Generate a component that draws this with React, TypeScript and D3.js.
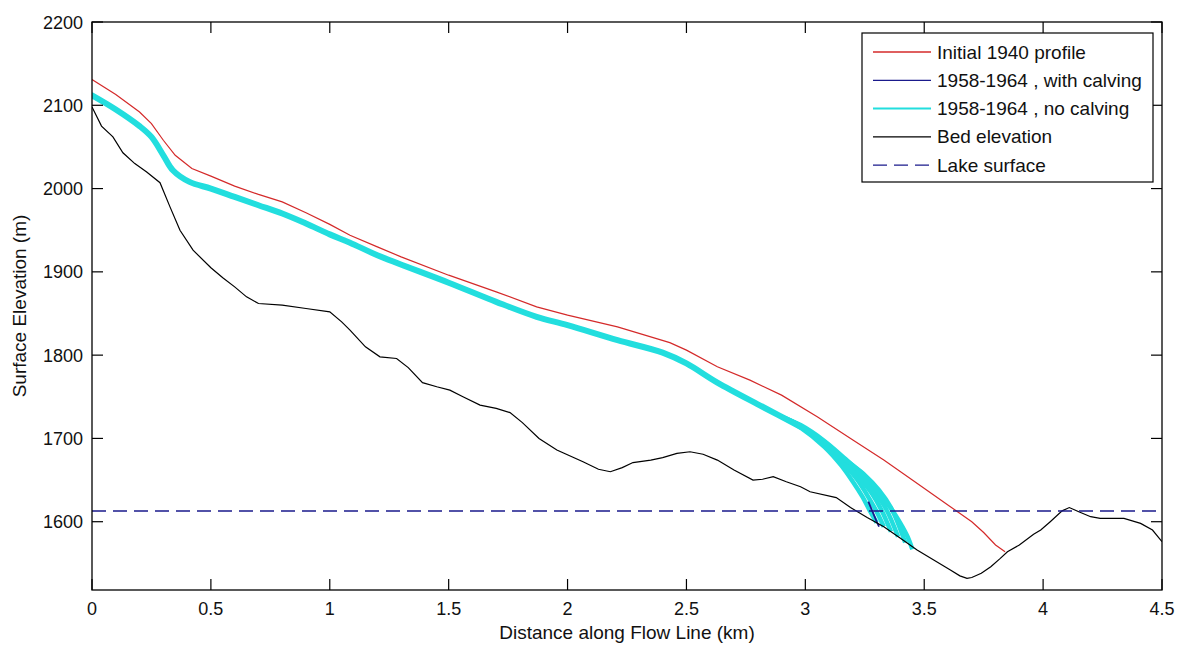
import React from "react";
import * as d3 from "d3";

// ---- data (km, m) ----
const initialX = [0, 0.1, 0.2, 0.25, 0.3, 0.35, 0.42, 0.5, 0.6, 0.7, 0.8, 0.9, 1.0, 1.085, 1.2, 1.3, 1.5, 1.7, 1.87, 2.0, 2.21, 2.43, 2.5, 2.63, 2.767, 2.9, 3.05, 3.2, 3.33, 3.45, 3.61, 3.7, 3.75, 3.8, 3.84];
const initialY = [2131, 2113, 2092, 2078, 2058, 2040, 2024, 2015, 2003, 1993, 1984, 1971, 1957, 1944, 1930, 1918, 1896, 1876, 1858, 1848, 1834, 1815, 1806, 1786, 1770, 1752, 1726, 1698, 1674, 1650, 1618, 1600, 1587, 1572, 1564];

const noCalvX = [0, 0.1, 0.2, 0.25, 0.3, 0.34, 0.41, 0.5, 0.6, 0.7, 0.8, 0.9, 1.0, 1.085, 1.2, 1.5, 1.7, 1.87, 2.0, 2.21, 2.4, 2.5, 2.63, 2.82, 2.98];
const noCalvY = [2112, 2095, 2075, 2062, 2040, 2022, 2008, 2000, 1990, 1980, 1970, 1958, 1945, 1935, 1920, 1887, 1864, 1846, 1836, 1818, 1803, 1790, 1767, 1738, 1714];

// terminal spread of the 1958-1964 no-calving profiles
const noCalvTipsX = [
  [2.9, 2.98, 3.08, 3.15, 3.2, 3.24, 3.27, 3.3],
  [2.9, 2.98, 3.08, 3.16, 3.22, 3.26, 3.3, 3.33],
  [2.9, 2.98, 3.08, 3.16, 3.23, 3.28, 3.32, 3.36],
  [2.9, 2.98, 3.08, 3.17, 3.24, 3.29, 3.34, 3.39],
  [2.9, 2.98, 3.08, 3.17, 3.25, 3.31, 3.36, 3.42],
  [2.9, 2.98, 3.08, 3.17, 3.23, 3.28, 3.32, 3.36, 3.4, 3.43, 3.45],
];
const noCalvTipsY = [
  [1726, 1713, 1690, 1668, 1648, 1630, 1614, 1599],
  [1726, 1714, 1692, 1670, 1650, 1632, 1612, 1594],
  [1726, 1714, 1693, 1672, 1652, 1634, 1614, 1588],
  [1726, 1715, 1694, 1673, 1654, 1636, 1615, 1582],
  [1726, 1715, 1696, 1674, 1656, 1638, 1617, 1575],
  [1726, 1716, 1697, 1675, 1660, 1646, 1630, 1616, 1598, 1582, 1567],
];

const calvingX = [0, 0.1, 0.2, 0.25, 0.3, 0.34, 0.41, 0.5, 0.6, 0.7, 0.8, 0.9, 1.0, 1.085, 1.2, 1.5, 1.7, 1.87, 2.0, 2.21, 2.4, 2.5, 2.63, 2.82, 2.98, 3.08, 3.15, 3.2, 3.24];
const calvingY = [2112, 2095, 2075, 2062, 2040, 2022, 2008, 2000, 1990, 1980, 1970, 1958, 1945, 1935, 1920, 1887, 1864, 1846, 1836, 1818, 1803, 1790, 1767, 1738, 1714, 1690, 1668, 1648, 1630];
const calvingFrontX = [3.265, 3.28, 3.29, 3.3, 3.31];
const calvingFrontY = [1624, 1614, 1607, 1600, 1594];

const bedX = [0, 0.04, 0.088, 0.13, 0.18, 0.23, 0.286, 0.328, 0.37, 0.425, 0.5, 0.55, 0.6, 0.65, 0.7, 0.8, 0.9, 1.0, 1.05, 1.085, 1.15, 1.211, 1.281, 1.33, 1.39, 1.45, 1.505, 1.56, 1.632, 1.7, 1.758, 1.81, 1.88, 1.955, 2.065, 2.13, 2.18, 2.23, 2.275, 2.35, 2.4, 2.46, 2.515, 2.57, 2.63, 2.7, 2.78, 2.82, 2.865, 2.92, 2.98, 3.02, 3.13, 3.19, 3.26, 3.33, 3.4, 3.47, 3.54, 3.61, 3.65, 3.68, 3.7, 3.74, 3.78, 3.82, 3.85, 3.9, 3.96, 3.99, 4.03, 4.08, 4.11, 4.15, 4.2, 4.24, 4.34, 4.41, 4.46, 4.5];
const bedY = [2098, 2075, 2062, 2043, 2030, 2020, 2007, 1978, 1950, 1926, 1905, 1893, 1882, 1870, 1862, 1860, 1856, 1852, 1840, 1830, 1810, 1798, 1796, 1785, 1767, 1762, 1758, 1750, 1740, 1736, 1731, 1719, 1700, 1686, 1672, 1663, 1660, 1665, 1671, 1674, 1677, 1682, 1684, 1681, 1674, 1662, 1650, 1651, 1654, 1648, 1642, 1636, 1629, 1617, 1605, 1594, 1580, 1566, 1554, 1542, 1535, 1532, 1533, 1538, 1546, 1556, 1564, 1572, 1585, 1590, 1600, 1613, 1617, 1612, 1606, 1604, 1604, 1598, 1590, 1576];

const lakeLevel = 1613;

const xTicks = [0, 0.5, 1, 1.5, 2, 2.5, 3, 3.5, 4, 4.5];
const yTicks = [1600, 1700, 1800, 1900, 2000, 2100, 2200];

const legendLabels = ["Initial 1940 profile", "1958-1964 , with calving", "1958-1964 , no calving", "Bed elevation", "Lake surface"];
const legendColors = ["#d42a2a", "#1a1a8c", "#22dede", "#000000", "#1a1a8c"];
const legendDash = ["", "", "", "", "14 7"];

const W = 1180;
const H = 645;
const L = 92, R = 1162, T = 22, B = 590;

export default function App() {
  const x = d3.scaleLinear().domain([0, 4.5]).range([L, R]);
  const y = d3.scaleLinear().domain([1518, 2200]).range([B, T]);
  const line = d3.line<[number, number]>().x((d) => x(d[0])).y((d) => y(d[1]));
  const smooth = d3.line<[number, number]>().x((d) => x(d[0])).y((d) => y(d[1])).curve(d3.curveCatmullRom);
  const pts = (xs: number[], ys: number[]) => xs.map((v, i) => [v, ys[i]] as [number, number]);
  const font = "'Liberation Sans', Arial, sans-serif";

  return (
    <svg width={W} height={H} style={{ position: "absolute", left: 0, top: 0, background: "#fff" }} fontFamily={font}>
      <rect x={0} y={0} width={W} height={H} fill="#fff" />
      <defs>
        <clipPath id="plotclip">
          <rect x={L} y={T} width={R - L} height={B - T} />
        </clipPath>
      </defs>
      <g clipPath="url(#plotclip)">
        <path d={smooth(pts(calvingX, calvingY)) || ""} fill="none" stroke="#1a1a8c" strokeWidth={1.5} />
        <path d={line(pts(initialX, initialY)) || ""} fill="none" stroke="#d42a2a" strokeWidth={1.2} />
        <path d={smooth(pts(noCalvX, noCalvY)) || ""} fill="none" stroke="#22dede" strokeWidth={6} strokeLinejoin="round" strokeLinecap="round" />
        {noCalvTipsX.map((xs, i) => (
          <path key={i} d={smooth(pts(xs, noCalvTipsY[i])) || ""} fill="none" stroke="#22dede" strokeWidth={4.5} strokeLinejoin="round" />
        ))}
        <path d={line(pts(calvingFrontX, calvingFrontY)) || ""} fill="none" stroke="#1a1a8c" strokeWidth={1.8} />
        <path d={line(pts(bedX, bedY)) || ""} fill="none" stroke="#000" strokeWidth={1.2} />
        <line x1={L} x2={R} y1={y(lakeLevel)} y2={y(lakeLevel)} stroke="#1a1a8c" strokeWidth={1.5} strokeDasharray="14 7" />
      </g>
      {/* axes box */}
      <rect x={L} y={T} width={R - L} height={B - T} fill="none" stroke="#000" strokeWidth={1.3} />
      {xTicks.map((t) => (
        <g key={"x" + t}>
          <line x1={x(t)} x2={x(t)} y1={B} y2={B - 11} stroke="#000" strokeWidth={1.2} />
          <line x1={x(t)} x2={x(t)} y1={T} y2={T + 11} stroke="#000" strokeWidth={1.2} />
          <text x={x(t)} y={615} fontSize={18} textAnchor="middle" fill="#111">{String(t)}</text>
        </g>
      ))}
      {yTicks.map((t) => (
        <g key={"y" + t}>
          <line x1={L} x2={L + 11} y1={y(t)} y2={y(t)} stroke="#000" strokeWidth={1.2} />
          <line x1={R} x2={R - 11} y1={y(t)} y2={y(t)} stroke="#000" strokeWidth={1.2} />
          <text x={83} y={y(t) + 6.5} fontSize={18} textAnchor="end" fill="#111">{String(t)}</text>
        </g>
      ))}
      <text x={(L + R) / 2} y={639} fontSize={19} textAnchor="middle" fill="#111">Distance along Flow Line (km)</text>
      <text transform={`translate(26,${(T + B) / 2}) rotate(-90)`} fontSize={19} textAnchor="middle" fill="#111">Surface Elevation (m)</text>
      {/* legend */}
      <rect x={862} y={33} width={291} height={149} fill="#fff" stroke="#000" strokeWidth={1.2} />
      {legendLabels.map((lab, i) => {
        const ly = 52 + i * 28.3;
        return (
          <g key={lab}>
            <line x1={873} x2={931} y1={ly} y2={ly} stroke={legendColors[i]} strokeWidth={i === 2 ? 2 : 1.3} strokeDasharray={legendDash[i]} />
            <text x={937} y={ly + 6.5} fontSize={19} fill="#111">{lab}</text>
          </g>
        );
      })}
    </svg>
  );
}
